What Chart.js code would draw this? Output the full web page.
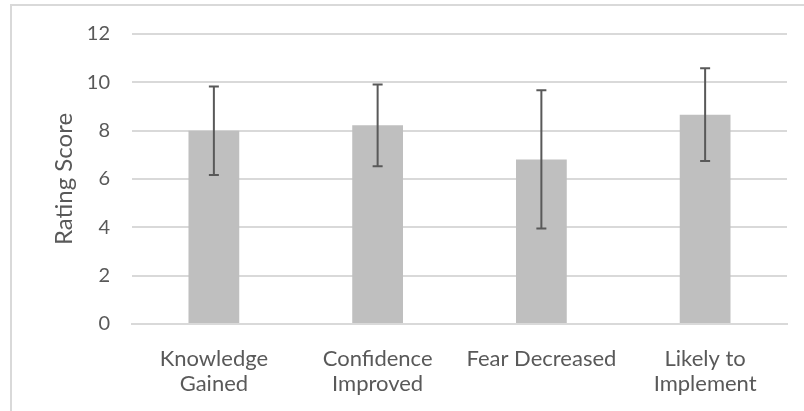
<!DOCTYPE html>
<html>
<head>
<meta charset="utf-8">
<script src="https://cdn.jsdelivr.net/npm/chart.js@4.4.0/dist/chart.umd.min.js"></script>
<style>
  html, body { margin: 0; padding: 0; background: #fff; }
  #wrap { position: relative; width: 804px; height: 411px; }
  #frame { position: absolute; left: 10px; top: 4px; right: 0; bottom: 0;
           border-left: 2px solid #d9d9d9; border-top: 2px solid #d9d9d9; }
  canvas { position: absolute; left: 0; top: 0; }
</style>
</head>
<body>
<div id="wrap">
  <div id="frame"></div>
  <canvas id="chart" width="804" height="411"></canvas>
</div>
<script>
var categories = [['Knowledge', 'Gained'], ['Confidence', 'Improved'], 'Fear Decreased', ['Likely to', 'Implement']];
var means = [8.0, 8.22, 6.81, 8.66];
var errors = [1.83, 1.69, 2.86, 1.92];
var yTicks = [0, 2, 4, 6, 8, 10, 12];

var textColor = '#595959';
var fontName = 'Lato, "Open Sans", sans-serif';

// error bars drawn from the scales
var errorBars = {
    id: 'errorBars',
    afterDatasetsDraw: function (chart) {
        var ctx = chart.ctx;
        var x = chart.scales.x, y = chart.scales.y;
        ctx.save();
        ctx.strokeStyle = '#595959';
        ctx.lineWidth = 2;
        means.forEach(function (m, i) {
            var px = x.getPixelForValue(i);
            var top = y.getPixelForValue(m + errors[i]);
            var bot = y.getPixelForValue(m - errors[i]);
            ctx.beginPath();
            ctx.moveTo(px, top); ctx.lineTo(px, bot);
            ctx.moveTo(px - 5, top); ctx.lineTo(px + 5, top);
            ctx.moveTo(px - 5, bot); ctx.lineTo(px + 5, bot);
            ctx.stroke();
        });
        ctx.restore();
    }
};

var ctx = document.getElementById('chart').getContext('2d');
var myChart = new Chart(ctx, {
    type: 'bar',
    data: {
        labels: categories,
        datasets: [{
            data: means,
            backgroundColor: '#bfbfbf',
            borderWidth: 0,
            categoryPercentage: 1,
            barPercentage: 0.31
        }]
    },
    options: {
        responsive: false,
        animation: false,
        events: [],
        layout: { padding: { left: 50, right: 17, top: 33, bottom: 0 } },
        plugins: {
            legend: { display: false },
            tooltip: { enabled: false }
        },
        scales: {
            x: {
                grid: { display: false, drawTicks: false },
                border: { display: true, color: '#d9d9d9', width: 2 },
                ticks: {
                    color: textColor,
                    font: { family: fontName, size: 22, lineHeight: 1.14 },
                    padding: 22,
                    maxRotation: 0,
                    autoSkip: false
                },
                afterFit: function (scale) { scale.height = 87; }
            },
            y: {
                min: 0,
                max: 12,
                afterBuildTicks: function (scale) {
                    scale.ticks = yTicks.map(function (v) { return { value: v }; });
                },
                grid: { color: '#d9d9d9', lineWidth: 2, drawTicks: false },
                border: { display: false },
                ticks: {
                    color: textColor,
                    font: { family: fontName, size: 20 },
                    padding: 22
                },
                title: {
                    display: true,
                    text: 'Rating Score',
                    color: textColor,
                    font: { family: fontName, size: 24 },
                    padding: 0
                },
                afterFit: function (scale) { scale.width = 82; }
            }
        }
    },
    plugins: [errorBars]
});
</script>
</body>
</html>
